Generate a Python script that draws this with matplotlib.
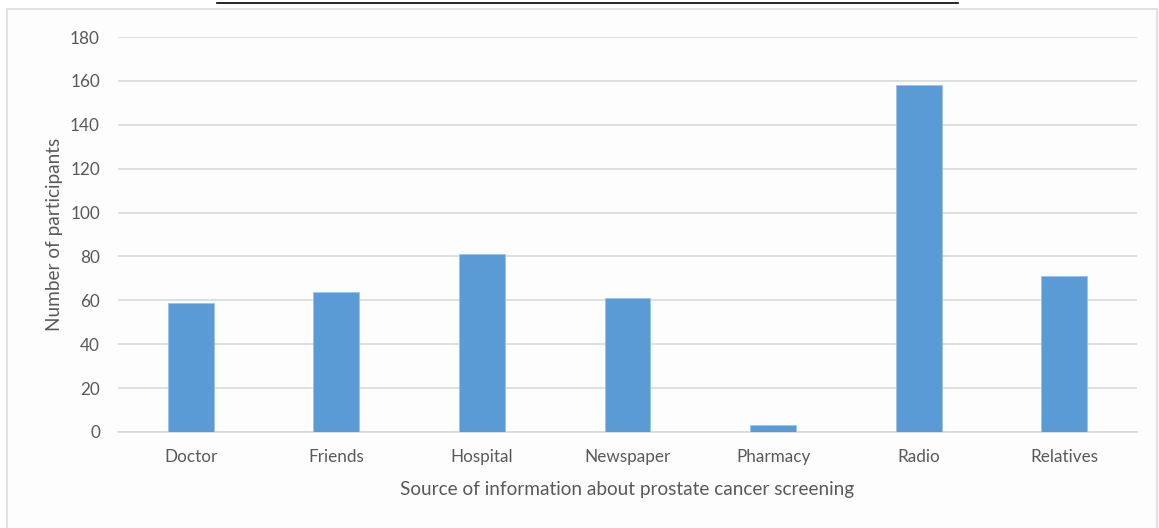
import matplotlib.pyplot as plt
from matplotlib.patches import Rectangle
from matplotlib.lines import Line2D

# Sources of information and number of participants for each
sources = ["Doctor", "Friends", "Hospital", "Newspaper", "Pharmacy", "Radio", "Relatives"]
participants = [59, 64, 81, 61, 3, 158, 71]
y_ticks = [0, 20, 40, 60, 80, 100, 120, 140, 160, 180]

W, H = 1159, 528
text_color = "#595959"
grid_color = "#d9d9d9"
bar_color = "#5b9bd5"

plt.rcParams["font.family"] = ["Lato", "DejaVu Sans"]

fig = plt.figure(figsize=(W / 100, H / 100), dpi=100)
fig.patch.set_facecolor("white")

# chart frame, kept behind the axes
frame = Rectangle((7 / W, -0.01), (1157 - 7) / W, 1 - 9 / H + 0.01,
                  transform=fig.transFigure, facecolor="#fdfdfd",
                  edgecolor="#dcdcdc", linewidth=1.2, zorder=-5)
fig.add_artist(frame)

# underline of the caption cut off at the top
fig.add_artist(Line2D([217 / W, 958 / W], [1 - 2.5 / H, 1 - 2.5 / H],
                      transform=fig.transFigure, color="black", linewidth=1.2))

ax = fig.add_axes([118 / W, 1 - 432 / H, (1137 - 118) / W, (432 - 37) / H])
ax.set_zorder(2)
ax.set_facecolor("none")

x = range(len(sources))
ax.bar(x, participants, width=0.315, color=bar_color, edgecolor="#9cc3e8",
       linewidth=0.6, zorder=3)

ax.set_xlim(-0.5, len(sources) - 0.5)
ax.set_ylim(0, 180)
ax.set_yticks(y_ticks)
ax.set_xticks(list(x))
ax.set_xticklabels(sources)

ax.grid(axis="y", color=grid_color, linewidth=1.2, zorder=0)
for side in ["left", "right", "top"]:
    ax.spines[side].set_visible(False)
ax.spines["bottom"].set_color(grid_color)
ax.spines["bottom"].set_linewidth(1.2)

ax.tick_params(axis="both", length=0, labelsize=12.3, colors=text_color)
ax.tick_params(axis="y", pad=13)
ax.tick_params(axis="x", pad=12)

ax.set_xlabel("Source of information about prostate cancer screening",
              fontsize=13.7, color=text_color, labelpad=12)
ax.set_ylabel("Number of participants", fontsize=13.7, color=text_color,
              labelpad=5)

fig.savefig("out.png", dpi=100)
